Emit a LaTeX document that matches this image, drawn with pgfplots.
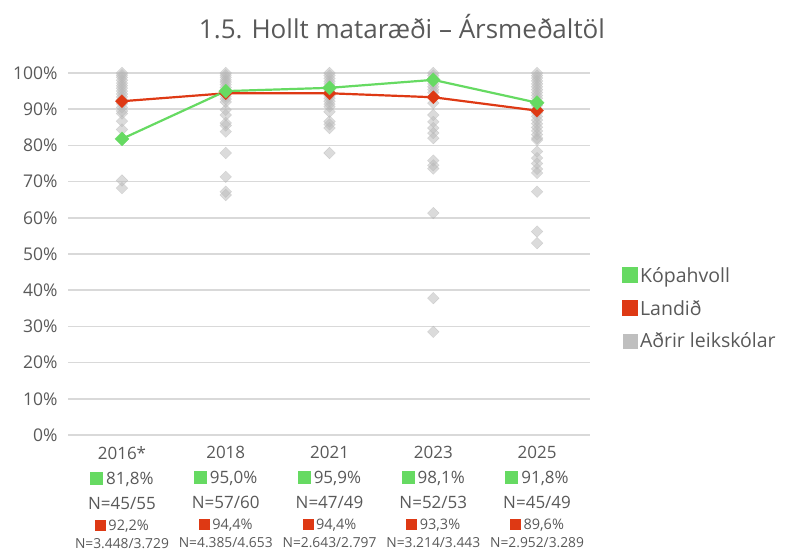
\documentclass[border=0pt]{standalone}
\usepackage{pgfplots}
\pgfplotsset{compat=1.18}
\usepackage{fontspec}
\setmainfont{Open Sans}
\definecolor{kgreen}{RGB}{102,218,98}
\definecolor{kred}{RGB}{222,57,20}
\definecolor{kgrey}{RGB}{184,184,184}
\definecolor{gridgrey}{RGB}{217,217,217}
\definecolor{txt}{RGB}{89,89,89}

\newcommand{\gsq}{\textcolor{kgreen}{\rule[-0.5pt]{13pt}{13pt}}}
\newcommand{\rsq}{\textcolor{kred}{\rule[-0.5pt]{11pt}{11pt}}}
\newcommand{\smr}{\fontsize{14.5}{18}\selectfont}
\newcommand{\smn}{\fontsize{13.8}{18}\selectfont}
\newcommand{\yl}[5]{#1\\[3pt] \gsq\,#2\\[3pt] #3\\[-1pt] {\smr\rsq\,#4}\\[-4pt] {\smn #5}}

\pgfplotstableread{
x y
0 100
0 99.4
0 98.8
0 98.0
0 97.2
0 96.5
0 95.8
0 95.0
0 94.2
0 93.4
0 92.6
0 91.5
0 90.5
0 89.5
0 88.8
0 86.7
0 84.4
0 70.3
0 68.2
1 100
1 99.4
1 98.8
1 98.1
1 97.5
1 96.8
1 96.0
1 95.2
1 94.4
1 93.6
1 92.8
1 92.0
1 89.8
1 88.4
1 86.2
1 85.5
1 83.8
1 77.9
1 71.3
1 67.2
1 66.3
2 100
2 99.3
2 98.5
2 97.7
2 97.0
2 96.2
2 95.4
2 94.6
2 93.8
2 93.0
2 92.2
2 91.4
2 90.7
2 89.3
2 86.6
2 85.8
2 84.8
2 77.9
3 100
3 99.3
3 98.5
3 97.8
3 97.0
3 96.2
3 95.4
3 94.6
3 93.5
3 91.7
3 88.4
3 86.5
3 84.8
3 83.4
3 82.0
3 75.8
3 74.5
3 73.6
3 61.3
3 37.8
3 28.5
4 100
4 99.3
4 98.6
4 97.8
4 97.0
4 96.2
4 95.4
4 94.6
4 93.8
4 93.0
4 92.0
4 91.0
4 90.0
4 89.0
4 88.0
4 87.0
4 86.0
4 85.0
4 84.0
4 83.0
4 82.0
4 81.5
4 78.3
4 76.5
4 75.0
4 73.5
4 72.4
4 67.2
4 56.2
4 53.0
}\others

\begin{document}
\begin{tikzpicture}
\path[use as bounding box] (0,0) rectangle (787pt,554pt);
\begin{axis}[
    at={(68pt,119pt)}, anchor=south west,
    scale only axis, width=522pt, height=362pt,
    xmin=-0.52, xmax=4.51, ymin=0, ymax=100,
    axis line style={draw=none},
    major tick length=0pt,
    ymajorgrids, grid style={color=gridgrey, line width=1.5pt},
    ytick={0,10,...,100},
    yticklabels={0\%,10\%,20\%,30\%,40\%,50\%,60\%,70\%,80\%,90\%,100\%},
    yticklabel style={font=\fontsize{17.5}{19}\selectfont, text=txt, xshift=-7pt},
    xtick={0,1,2,3,4},
    xticklabels={
      {\yl{2016*}{81,8\%}{N=45/55}{92,2\%}{N=3.448/3.729}},
      {\yl{2018}{95,0\%}{N=57/60}{94,4\%}{N=4.385/4.653}},
      {\yl{2021}{95,9\%}{N=47/49}{94,4\%}{N=2.643/2.797}},
      {\yl{2023}{98,1\%}{N=52/53}{93,3\%}{N=3.214/3.443}},
      {\yl{2025}{91,8\%}{N=45/49}{89,6\%}{N=2.952/3.289}}},
    xticklabel style={font=\fontsize{17}{22}\selectfont, text=txt, align=center, inner sep=1pt, yshift=-10pt},
    clip=false,
    reverse legend,
    legend style={at={(1.055,0.35)}, anchor=west, draw=none, fill=none,
      font=\fontsize{19.5}{22}\selectfont, text=txt, row sep=12.5pt,
      cells={anchor=west}},
  ]
\addplot[only marks, color=kgrey, mark=square*, mark size=4.1pt, mark options={draw=kgrey, fill=kgrey, opacity=0.5, rotate=45},
  legend image code/.code={\fill[kgrey!90] (0pt,-7pt) rectangle (14pt,7pt);}]
  table[x=x, y=y] {\others};
\addlegendentry{Aðrir leikskólar}
\addplot[color=kred, line width=2.2pt, mark=square*, mark size=4.6pt, mark options={fill=kred, draw=kred, line width=0.3pt, rotate=45},
  legend image code/.code={\fill[kred] (0pt,-7pt) rectangle (14pt,7pt);}]
  coordinates {(0,92.2) (1,94.4) (2,94.4) (3,93.3) (4,89.6)};
\addlegendentry{Landið}
\addplot[color=kgreen, line width=2.2pt, mark=square*, mark size=5pt, mark options={fill=kgreen, draw=kgreen, line width=0.3pt, rotate=45},
  legend image code/.code={\fill[kgreen] (0pt,-7pt) rectangle (14pt,7pt);}]
  coordinates {(0,81.8) (1,95.0) (2,95.9) (3,98.1) (4,91.8)};
\addlegendentry{Kópahvoll}
\end{axis}
\node[text=txt, font=\fontsize{26}{30}\selectfont] at (402pt,527pt) {1.5. Hollt mataræði – Ársmeðaltöl};
\end{tikzpicture}
\end{document}
